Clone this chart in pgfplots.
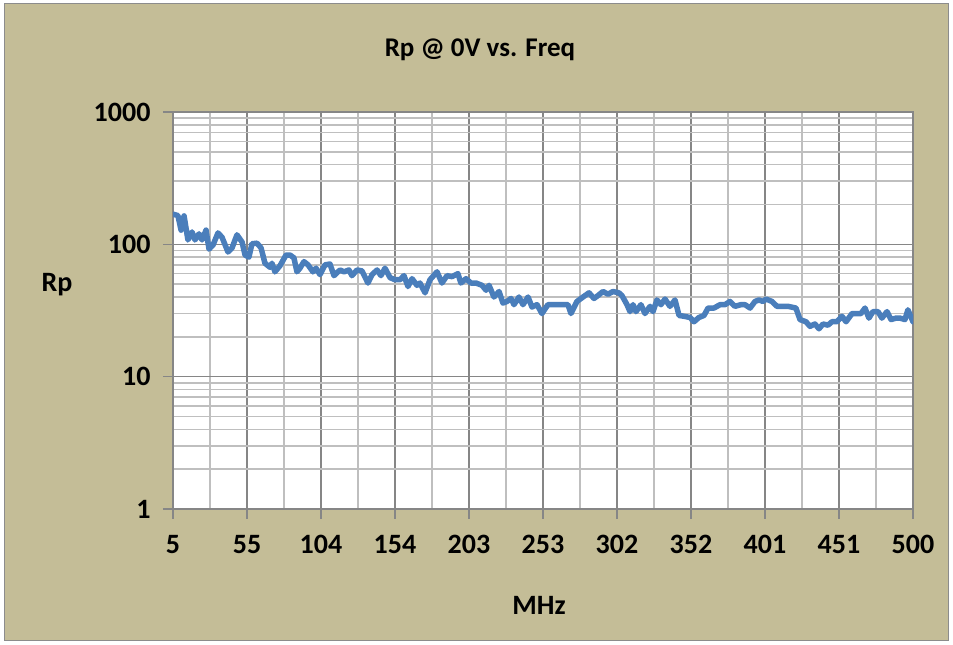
\documentclass[border=0pt]{standalone}
\usepackage{fontspec}
\setmainfont{Carlito}
\usepackage{pgfplots}
\pgfplotsset{compat=1.18}
\definecolor{bg}{RGB}{196,189,151}
\definecolor{serie}{RGB}{74,126,187}
\definecolor{majgrid}{RGB}{134,134,134}
\definecolor{mingrid}{RGB}{191,191,191}
\definecolor{frame}{RGB}{140,140,140}
\begin{document}
\begin{tikzpicture}
\path[use as bounding box] (0pt,0pt) rectangle (953pt,645pt);
\fill[white] (0pt,0pt) rectangle (953pt,645pt);
\filldraw[fill=bg,draw=frame,line width=1pt] (4pt,4pt) rectangle (948pt,641pt);
\begin{axis}[
  at={(173pt,136pt)}, anchor=south west,
  scale only axis, width=740pt, height=397pt,
  ymode=log, ymin=1, ymax=1000, xmin=5, xmax=500,
  xtick={5,54.5,104,153.5,203,252.5,302,351.5,401,450.5,500},
  xticklabels={5,55,104,154,203,253,302,352,401,451,500},
  minor xtick={29.75,79.25,128.75,178.25,227.75,277.25,326.75,376.25,425.75,475.25},
  ytick={1,10,100,1000}, yticklabels={1,10,100,1000},
  minor ytick={2,3,4,5,6,7,8,9,20,30,40,50,60,70,80,90,200,300,400,500,600,700,800,900},
  grid=both,
  major grid style={draw=majgrid, line width=1.6pt},
  minor grid style={draw=mingrid, line width=1.6pt},
  axis line style={draw=majgrid, line width=1.6pt},
  tick style={draw=majgrid, line width=1.6pt},
  major tick length=10pt, minor tick length=0pt,
  tick align=outside, tick pos=left,
  ticklabel style={font=\bfseries\fontsize{28}{30}\selectfont, text=black},
  xticklabel style={yshift=-13pt},
  yticklabel style={xshift=-9pt},
  axis background/.style={fill=white},
]
\addplot[serie, line width=5.5pt, line join=round, line cap=round] coordinates {
(5,169)(8.3,165)(10.4,128)(12.4,164)(15.0,108)(17.7,124)(19.7,108)(22.4,120)(24.4,108)(27.1,128)
(29.1,92)(31.8,99)(35.1,122)(37.8,113)(41.8,87.5)(44.5,94)(47.8,118)(51.2,104)(53.2,83)(55.8,80)
(57.8,101)(61.2,102)(63.9,94)(66.5,72)(69.9,67)(71.2,72)(73.2,62)(76.6,69)(80.6,83)(83.3,83)
(85.9,79)(87.9,62)(89.9,66)(92.6,74)(95.3,70)(98.6,62)(100.7,66)(103.3,59)(106.7,70)(110.0,71)
(112.7,58)(116.7,64)(119.4,62)(122.7,64)(124.7,58)(128.1,64)(131.4,63)(135.4,51)(138.1,59)(141.5,64)
(144.1,58)(146.8,66)(150.2,56)(153.5,54)(156.8,54)(159.5,58)(162.2,48)(164.9,55)(168.2,49)(170.2,51)
(173.6,43)(176.9,54)(181.6,62)(184.9,51)(188.3,58)(191.6,57)(195.6,60)(197.6,51)(201.0,55)(204.3,51)
(207.7,51)(211.7,49)(214.4,45)(216.4,49)(219.7,40)(223.1,44)(225.7,36)(228.4,37)(231.1,39)(233.1,35)
(236.4,40)(239.1,35)(242.5,40)(245.1,33.6)(248.5,35)(251.8,30)(255.8,35)(260.5,35)(269.2,35)(271.2,30)
(275.2,37)(280.6,41)(283.3,43)(286.6,39)(289.3,41)(292.6,44)(296.0,42)(299.3,44)(303.3,43)(305.3,41)
(308.7,35)(310.7,31)(312.7,35)(314.7,31)(318.0,35)(320.7,30)(324.1,34)(326.1,31)(328.7,38)(331.4,35)
(334.1,38.6)(337.4,34)(340.8,38)(343.5,29)(346.8,28.6)(350.8,28)(353.5,26)(356.8,28)(360.2,29)(362.9,33)
(366.9,33)(370.9,35)(374.2,35)(377.6,37)(380.9,34)(384.9,35)(387.6,35)(391.0,33)(394.3,37)(397.0,38)
(399.6,37)(401.7,38.6)(405.7,37)(409.0,34)(413.0,34)(416.4,34)(421.7,33)(424.4,27)(428.4,26)(431.1,24)
(434.4,25)(437.1,23)(439.8,25)(443.1,24.5)(445.8,26)(449.1,26)(452.5,28.6)(455.2,26)(459.2,30)(462.5,30)
(465.2,30)(467.9,33)(470.5,27.7)(473.2,31)(476.6,31)(479.2,27.7)(482.6,31)(485.3,27)(488.6,27.7)(491.3,27.7)
(494.6,27)(496.6,32)(500,26)
};
\end{axis}
\node[font=\bfseries\fontsize{27}{29}\selectfont] at (480pt,595pt) {Rp @ 0V vs. Freq};
\node[font=\bfseries\fontsize{28}{30}\selectfont] at (57pt,360pt) {Rp};
\node[font=\bfseries\fontsize{28}{30}\selectfont] at (539pt,40pt) {MHz};
\end{tikzpicture}
\end{document}
